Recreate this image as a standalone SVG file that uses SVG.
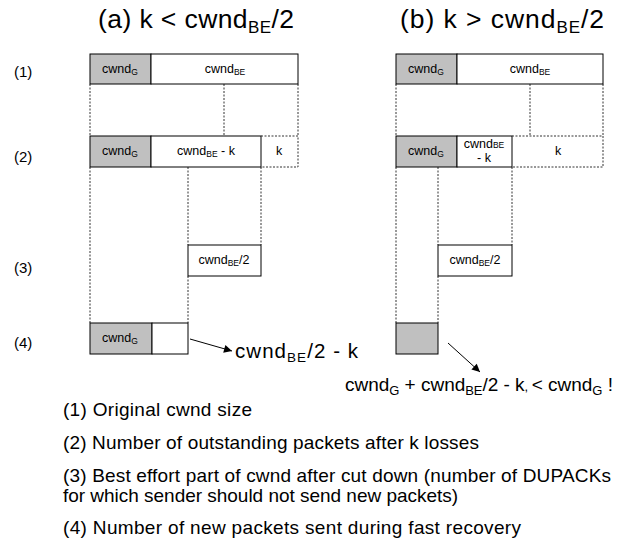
<svg xmlns="http://www.w3.org/2000/svg" width="624" height="538" viewBox="0 0 624 538">
  <defs>
    <style>
      text { font-family: "Liberation Sans", Arial, sans-serif; fill: #000; }
      .title { font-size: 26.5px; }
      .tsub { font-size: 17px; }
      .row { font-size: 15px; }
      .cell { font-size: 12.5px; text-anchor: middle; }
      .sub { font-size: 8.5px; }
      .big { font-size: 20.5px; }
      .bigsub { font-size: 13.5px; }
      .big2 { font-size: 19px; }
      .bigsub2 { font-size: 13px; }
      .legend { font-size: 19px; }
      .box { fill: #fff; stroke: #000; stroke-width: 1; }
      .gray { fill: #c0c0c0; stroke: #000; stroke-width: 1; }
      .dot { fill: none; stroke: #333; stroke-width: 1; stroke-dasharray: 2 1.5; }
      .arrow { fill: none; stroke: #000; stroke-width: 1; marker-end: url(#head); }
    </style>
    <marker id="head" viewBox="0 0 10 10" refX="10" refY="5" markerWidth="13" markerHeight="8" markerUnits="userSpaceOnUse" orient="auto">
      <path d="M0,0 L10,5 L0,10 z" fill="#000"/>
    </marker>
  </defs>

  <rect width="624" height="538" fill="#fff"/>

  <!-- column headings -->
  <text class="title" x="98" y="28" textLength="196" lengthAdjust="spacing">(a) k &lt; cwnd<tspan class="tsub" dy="5">BE</tspan><tspan dy="-5">/2</tspan></text>
  <text class="title" x="400" y="28" textLength="204" lengthAdjust="spacing">(b) k &gt; cwnd<tspan class="tsub" dy="5">BE</tspan><tspan dy="-5">/2</tspan></text>

  <!-- step labels -->
  <text class="row" x="14" y="77">(1)</text>
  <text class="row" x="14" y="162">(2)</text>
  <text class="row" x="14" y="273">(3)</text>
  <text class="row" x="14" y="348">(4)</text>

  <!-- guide lines between steps -->
  <g id="connectors">
    <!-- left column -->
    <path class="dot" d="M90,84 V136 M224,84 V136 M298,84 V136"/>
    <path class="dot" d="M90,167 V323 M188,167 V245 M188,276 V323 M261,167 V245"/>
    <!-- right column -->
    <path class="dot" d="M396,84 V136 M530,84 V136 M603,84 V136"/>
    <path class="dot" d="M396,167 V323 M438,167 V245 M438,276 V323 M512,167 V245"/>
    <!-- pointers to results -->
    <line class="arrow" x1="190" y1="339" x2="232" y2="351"/>
    <line class="arrow" x1="448" y1="343" x2="480" y2="372"/>
  </g>

  <!-- (a) step 1 -->
  <g id="a1">
    <rect class="gray" x="90" y="54" width="61" height="30"/>
    <rect class="box" x="151" y="54" width="147" height="30"/>
    <text class="cell" x="120" y="73">cwnd<tspan class="sub" dy="2">G</tspan></text>
    <text class="cell" x="225" y="73">cwnd<tspan class="sub" dy="2">BE</tspan></text>
  </g>

  <!-- (a) step 2 -->
  <g id="a2">
    <rect class="gray" x="90" y="136" width="61" height="31"/>
    <rect class="box" x="151" y="136" width="110" height="31"/>
    <path class="dot" d="M261,136 H298 V167 H261"/>
    <text class="cell" x="120" y="155">cwnd<tspan class="sub" dy="2">G</tspan></text>
    <text class="cell" x="206" y="155">cwnd<tspan class="sub" dy="2">BE</tspan><tspan dy="-2"> - k</tspan></text>
    <text class="cell" x="279" y="155">k</text>
  </g>

  <!-- (a) step 3 -->
  <g id="a3">
    <rect class="box" x="188" y="245" width="73" height="31"/>
    <text class="cell" x="224" y="264">cwnd<tspan class="sub" dy="2">BE</tspan><tspan dy="-2">/2</tspan></text>
  </g>

  <!-- (a) step 4 -->
  <g id="a4">
    <rect class="gray" x="90" y="323" width="62" height="31"/>
    <rect class="box" x="152" y="323" width="36" height="31"/>
    <text class="cell" x="120" y="342">cwnd<tspan class="sub" dy="2">G</tspan></text>
    <text class="big" x="235" y="358" textLength="123" lengthAdjust="spacing">cwnd<tspan class="bigsub" dy="4">BE</tspan><tspan dy="-4">/2 - k</tspan></text>
  </g>

  <!-- (b) step 1 -->
  <g id="b1">
    <rect class="gray" x="396" y="54" width="61" height="30"/>
    <rect class="box" x="457" y="54" width="146" height="30"/>
    <text class="cell" x="426" y="73">cwnd<tspan class="sub" dy="2">G</tspan></text>
    <text class="cell" x="530" y="73">cwnd<tspan class="sub" dy="2">BE</tspan></text>
  </g>

  <!-- (b) step 2 -->
  <g id="b2">
    <rect class="gray" x="396" y="136" width="61" height="31"/>
    <rect class="box" x="457" y="136" width="55" height="31"/>
    <path class="dot" d="M512,136 H603 V167 H512"/>
    <text class="cell" x="426" y="155">cwnd<tspan class="sub" dy="2">G</tspan></text>
    <text class="cell" x="484" y="148">cwnd<tspan class="sub">BE</tspan></text>
    <text class="cell" x="484" y="162">- k</text>
    <text class="cell" x="558" y="155">k</text>
  </g>

  <!-- (b) step 3 -->
  <g id="b3">
    <rect class="box" x="438" y="245" width="74" height="31"/>
    <text class="cell" x="475" y="264">cwnd<tspan class="sub" dy="2">BE</tspan><tspan dy="-2">/2</tspan></text>
  </g>

  <!-- (b) step 4 -->
  <g id="b4">
    <rect class="gray" x="396" y="323" width="42" height="31"/>
    <text class="big2" x="345" y="391" textLength="268" lengthAdjust="spacing">cwnd<tspan class="bigsub2" dy="4">G</tspan><tspan dy="-4"> + cwnd</tspan><tspan class="bigsub2" dy="4">BE</tspan><tspan dy="-4">/2 - k</tspan><tspan class="bigsub2">, </tspan><tspan>&lt; cwnd</tspan><tspan class="bigsub2" dy="4">G</tspan><tspan dy="-4"> !</tspan></text>
  </g>

  <!-- legend -->
  <g id="legend">
    <text class="legend" x="63" y="416" textLength="189" lengthAdjust="spacing">(1) Original cwnd size</text>
    <text class="legend" x="63" y="449" textLength="416" lengthAdjust="spacing">(2) Number of outstanding packets after k losses</text>
    <text class="legend" x="63" y="482" textLength="548" lengthAdjust="spacing">(3) Best effort part of cwnd after cut down (number of DUPACKs</text>
    <text class="legend" x="63" y="502" textLength="395" lengthAdjust="spacing">for which sender should not send new packets)</text>
    <text class="legend" x="63" y="534" textLength="458" lengthAdjust="spacing">(4) Number of new packets sent during fast recovery</text>
  </g>
</svg>
